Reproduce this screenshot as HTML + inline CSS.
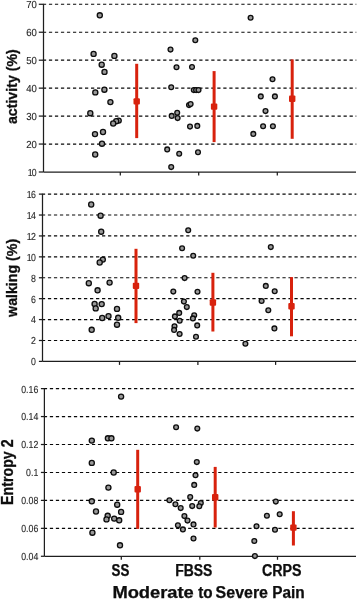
<!DOCTYPE html>
<html lang="en"><head><meta charset="utf-8"><title>Moderate to Severe Pain</title>
<style>html,body{margin:0;padding:0;background:#fff}body{width:358px;height:600px;overflow:hidden;position:relative}svg{position:absolute;left:0;top:0;display:block}.tk{font-family:"Liberation Sans",sans-serif;font-size:10.2px;fill:#262626;stroke:#262626;stroke-width:.12;text-rendering:geometricPrecision}.yl{font-family:"Liberation Sans",sans-serif;font-size:14.2px;font-weight:bold;fill:#111;stroke:#111;stroke-width:.3}.xl{font-family:"Liberation Sans",sans-serif;font-weight:bold;fill:#0a0a0a;stroke:#0a0a0a;stroke-width:.25}.g{stroke:#080808;stroke-width:1.15;stroke-dasharray:3.25 2.763;fill:none}.a{stroke:#1e1e1e;stroke-width:1.25;fill:none}.d circle{fill:#999;stroke:#0c0c0c;stroke-width:1.3}.r line{stroke:#d8210c;stroke-width:3}.r rect{fill:#d8210c}</style></head><body>
<svg width="358" height="600" viewBox="0 0 358 600">
<defs><filter id="soft" x="0" y="0" width="358" height="600" filterUnits="userSpaceOnUse"><feGaussianBlur stdDeviation="0.38"/></filter><filter id="soft2" x="0" y="0" width="358" height="600" filterUnits="userSpaceOnUse"><feGaussianBlur stdDeviation="0.27"/></filter></defs>
<rect width="358" height="600" fill="#fff"/>
<line class="g" x1="42.90" y1="4.28" x2="356.3" y2="4.28"/>
<line class="a" x1="38.8" y1="4.28" x2="43.5" y2="4.28"/>
<line class="g" x1="42.90" y1="32.23" x2="356.3" y2="32.23"/>
<line class="a" x1="38.8" y1="32.23" x2="43.5" y2="32.23"/>
<line class="g" x1="42.90" y1="60.19" x2="356.3" y2="60.19"/>
<line class="a" x1="38.8" y1="60.19" x2="43.5" y2="60.19"/>
<line class="g" x1="42.90" y1="88.14" x2="356.3" y2="88.14"/>
<line class="a" x1="38.8" y1="88.14" x2="43.5" y2="88.14"/>
<line class="g" x1="42.90" y1="116.09" x2="356.3" y2="116.09"/>
<line class="a" x1="38.8" y1="116.09" x2="43.5" y2="116.09"/>
<line class="g" x1="42.90" y1="144.05" x2="356.3" y2="144.05"/>
<line class="a" x1="38.8" y1="144.05" x2="43.5" y2="144.05"/>
<line class="a" x1="38.8" y1="172.00" x2="43.5" y2="172.00"/>
<line class="a" x1="43.5" y1="4.28" x2="43.5" y2="172.00"/>
<line class="a" x1="43.5" y1="172.00" x2="356.0" y2="172.00"/>
<line class="a" x1="120.3" y1="172.00" x2="120.3" y2="175.50"/>
<line class="a" x1="198.7" y1="172.00" x2="198.7" y2="175.50"/>
<line class="a" x1="277.3" y1="172.00" x2="277.3" y2="175.50"/>
<line class="g" x1="41.90" y1="194.12" x2="356.3" y2="194.12"/>
<line class="a" x1="38.9" y1="194.12" x2="42.5" y2="194.12"/>
<line class="g" x1="41.90" y1="215.03" x2="356.3" y2="215.03"/>
<line class="a" x1="38.9" y1="215.03" x2="42.5" y2="215.03"/>
<line class="g" x1="41.90" y1="235.94" x2="356.3" y2="235.94"/>
<line class="a" x1="38.9" y1="235.94" x2="42.5" y2="235.94"/>
<line class="g" x1="41.90" y1="256.85" x2="356.3" y2="256.85"/>
<line class="a" x1="38.9" y1="256.85" x2="42.5" y2="256.85"/>
<line class="g" x1="41.90" y1="277.76" x2="356.3" y2="277.76"/>
<line class="a" x1="38.9" y1="277.76" x2="42.5" y2="277.76"/>
<line class="g" x1="41.90" y1="298.67" x2="356.3" y2="298.67"/>
<line class="a" x1="38.9" y1="298.67" x2="42.5" y2="298.67"/>
<line class="g" x1="41.90" y1="319.58" x2="356.3" y2="319.58"/>
<line class="a" x1="38.9" y1="319.58" x2="42.5" y2="319.58"/>
<line class="g" x1="41.90" y1="340.49" x2="356.3" y2="340.49"/>
<line class="a" x1="38.9" y1="340.49" x2="42.5" y2="340.49"/>
<line class="a" x1="38.9" y1="361.40" x2="42.5" y2="361.40"/>
<line class="a" x1="42.5" y1="194.12" x2="42.5" y2="361.40"/>
<line class="a" x1="42.5" y1="361.40" x2="356.0" y2="361.40"/>
<line class="a" x1="119.5" y1="361.40" x2="119.5" y2="364.90"/>
<line class="a" x1="197.9" y1="361.40" x2="197.9" y2="364.90"/>
<line class="a" x1="275.6" y1="361.40" x2="275.6" y2="364.90"/>
<line class="g" x1="43.84" y1="388.62" x2="356.3" y2="388.62"/>
<line class="a" x1="40.9" y1="388.62" x2="44.4" y2="388.62"/>
<line class="g" x1="43.84" y1="416.56" x2="356.3" y2="416.56"/>
<line class="a" x1="40.9" y1="416.56" x2="44.4" y2="416.56"/>
<line class="g" x1="43.84" y1="444.51" x2="356.3" y2="444.51"/>
<line class="a" x1="40.9" y1="444.51" x2="44.4" y2="444.51"/>
<line class="g" x1="43.84" y1="472.45" x2="356.3" y2="472.45"/>
<line class="a" x1="40.9" y1="472.45" x2="44.4" y2="472.45"/>
<line class="g" x1="43.84" y1="500.39" x2="356.3" y2="500.39"/>
<line class="a" x1="40.9" y1="500.39" x2="44.4" y2="500.39"/>
<line class="g" x1="43.84" y1="528.34" x2="356.3" y2="528.34"/>
<line class="a" x1="40.9" y1="528.34" x2="44.4" y2="528.34"/>
<line class="a" x1="40.9" y1="556.28" x2="44.4" y2="556.28"/>
<line class="a" x1="44.4" y1="388.62" x2="44.4" y2="556.28"/>
<line class="a" x1="44.4" y1="556.28" x2="356.0" y2="556.28"/>
<line class="a" x1="121.3" y1="556.28" x2="121.3" y2="559.78"/>
<line class="a" x1="199.8" y1="556.28" x2="199.8" y2="559.78"/>
<line class="a" x1="277.5" y1="556.28" x2="277.5" y2="559.78"/>
<g filter="url(#soft)">
<text class="tk" text-anchor="end" transform="translate(36.9,8.18) scale(0.94,1)">70</text>
<text class="tk" text-anchor="end" transform="translate(36.9,36.13) scale(0.94,1)">60</text>
<text class="tk" text-anchor="end" transform="translate(36.9,64.09) scale(0.94,1)">50</text>
<text class="tk" text-anchor="end" transform="translate(36.9,92.04) scale(0.94,1)">40</text>
<text class="tk" text-anchor="end" transform="translate(36.9,119.99) scale(0.94,1)">30</text>
<text class="tk" text-anchor="end" transform="translate(36.9,147.95) scale(0.94,1)">20</text>
<text class="tk" text-anchor="end" style="letter-spacing:-1px" transform="translate(35.8,175.90) scale(0.86,1)">10</text>
<text class="tk" text-anchor="end" style="letter-spacing:-1px" transform="translate(34.9,198.02) scale(0.86,1)">16</text>
<text class="tk" text-anchor="end" style="letter-spacing:-1px" transform="translate(34.9,218.93) scale(0.86,1)">14</text>
<text class="tk" text-anchor="end" style="letter-spacing:-1px" transform="translate(34.9,239.84) scale(0.86,1)">12</text>
<text class="tk" text-anchor="end" style="letter-spacing:-1px" transform="translate(34.9,260.75) scale(0.86,1)">10</text>
<text class="tk" text-anchor="end" transform="translate(36.0,281.66) scale(0.86,1)">8</text>
<text class="tk" text-anchor="end" transform="translate(36.0,302.57) scale(0.86,1)">6</text>
<text class="tk" text-anchor="end" transform="translate(36.0,323.48) scale(0.86,1)">4</text>
<text class="tk" text-anchor="end" transform="translate(36.0,344.39) scale(0.86,1)">2</text>
<text class="tk" text-anchor="end" transform="translate(36.0,365.30) scale(0.86,1)">0</text>
<text class="tk" text-anchor="end" transform="translate(38.3,392.52) scale(0.86,1)">0.16</text>
<text class="tk" text-anchor="end" transform="translate(38.3,420.46) scale(0.86,1)">0.14</text>
<text class="tk" text-anchor="end" transform="translate(38.3,448.41) scale(0.86,1)">0.12</text>
<text class="tk" text-anchor="end" transform="translate(38.3,476.35) scale(0.86,1)">0.1</text>
<text class="tk" text-anchor="end" transform="translate(38.3,504.29) scale(0.86,1)">0.08</text>
<text class="tk" text-anchor="end" transform="translate(38.3,532.24) scale(0.86,1)">0.06</text>
<text class="tk" text-anchor="end" transform="translate(38.3,560.18) scale(0.86,1)">0.04</text>
<g class="r">
<line x1="136.7" y1="63.8" x2="136.7" y2="138.1"/><rect x="133.5" y="98.2" width="6.4" height="6.4" rx="1"/>
<line x1="214.1" y1="71.1" x2="214.1" y2="142.1"/><rect x="210.9" y="103.4" width="6.4" height="6.4" rx="1"/>
<line x1="292.2" y1="59.4" x2="292.2" y2="138.8"/><rect x="289.0" y="95.5" width="6.4" height="6.4" rx="1"/>
<line x1="136.0" y1="248.8" x2="136.0" y2="323.1"/><rect x="132.8" y="282.7" width="6.4" height="6.4" rx="1"/>
<line x1="212.9" y1="272.8" x2="212.9" y2="331.5"/><rect x="209.7" y="299.3" width="6.4" height="6.4" rx="1"/>
<line x1="291.5" y1="277.1" x2="291.5" y2="336.3"/><rect x="288.3" y="303.1" width="6.4" height="6.4" rx="1"/>
<line x1="137.7" y1="449.8" x2="137.7" y2="528.9"/><rect x="134.5" y="486.1" width="6.4" height="6.4" rx="1"/>
<line x1="215.2" y1="466.9" x2="215.2" y2="527.5"/><rect x="212.0" y="494.1" width="6.4" height="6.4" rx="1"/>
<line x1="293.4" y1="511.2" x2="293.4" y2="545.5"/><rect x="290.2" y="524.4" width="6.4" height="6.4" rx="1"/>
</g>
</g><g filter="url(#soft2)">
<g class="d">
<circle cx="99.8" cy="15.3" r="2.55"/>
<circle cx="93.6" cy="53.9" r="2.55"/>
<circle cx="114.4" cy="55.9" r="2.55"/>
<circle cx="101.7" cy="64.7" r="2.55"/>
<circle cx="104.5" cy="71.9" r="2.55"/>
<circle cx="104.4" cy="89.7" r="2.55"/>
<circle cx="95.3" cy="92.4" r="2.55"/>
<circle cx="110.4" cy="102.1" r="2.55"/>
<circle cx="90.3" cy="113.2" r="2.55"/>
<circle cx="118.7" cy="120.6" r="2.55"/>
<circle cx="116.2" cy="121.2" r="2.55"/>
<circle cx="113.2" cy="123.5" r="2.55"/>
<circle cx="103" cy="132.0" r="2.55"/>
<circle cx="95" cy="134.1" r="2.55"/>
<circle cx="102" cy="143.7" r="2.55"/>
<circle cx="95.2" cy="154.5" r="2.55"/>
<circle cx="250.6" cy="17.7" r="2.4"/>
<circle cx="195.3" cy="40.2" r="2.4"/>
<circle cx="170.5" cy="49.6" r="2.4"/>
<circle cx="176.5" cy="67.3" r="2.4"/>
<circle cx="192" cy="67.0" r="2.4"/>
<circle cx="171.2" cy="87.2" r="2.4"/>
<circle cx="193.8" cy="90.1" r="2.4"/>
<circle cx="196.1" cy="90.1" r="2.4"/>
<circle cx="198.5" cy="90.1" r="2.4"/>
<circle cx="189" cy="105.1" r="2.4"/>
<circle cx="190.6" cy="104.1" r="2.4"/>
<circle cx="177.2" cy="112.8" r="2.4"/>
<circle cx="171.7" cy="115.9" r="2.4"/>
<circle cx="177.6" cy="118.1" r="2.4"/>
<circle cx="190" cy="126.6" r="2.4"/>
<circle cx="197.3" cy="125.9" r="2.4"/>
<circle cx="253.3" cy="133.9" r="2.4"/>
<circle cx="167.2" cy="149.4" r="2.4"/>
<circle cx="179.2" cy="153.8" r="2.4"/>
<circle cx="198" cy="152.3" r="2.4"/>
<circle cx="171.2" cy="167.1" r="2.4"/>
<circle cx="272.5" cy="79.2" r="2.4"/>
<circle cx="260.8" cy="96.4" r="2.4"/>
<circle cx="274.9" cy="96.4" r="2.4"/>
<circle cx="265.5" cy="111.1" r="2.4"/>
<circle cx="263.1" cy="126.2" r="2.4"/>
<circle cx="272.9" cy="126.2" r="2.4"/>
<circle cx="91.2" cy="204.5" r="2.55"/>
<circle cx="100.6" cy="215.7" r="2.55"/>
<circle cx="101.2" cy="231.7" r="2.55"/>
<circle cx="102.8" cy="259.6" r="2.55"/>
<circle cx="99.7" cy="262.5" r="2.55"/>
<circle cx="88.8" cy="283.2" r="2.55"/>
<circle cx="109.6" cy="282.6" r="2.55"/>
<circle cx="97.6" cy="290.3" r="2.55"/>
<circle cx="94.6" cy="303.9" r="2.55"/>
<circle cx="101.7" cy="304.1" r="2.55"/>
<circle cx="95.7" cy="308.4" r="2.55"/>
<circle cx="117" cy="308.9" r="2.55"/>
<circle cx="108.5" cy="316.1" r="2.55"/>
<circle cx="102.2" cy="318.0" r="2.55"/>
<circle cx="118.2" cy="317.8" r="2.55"/>
<circle cx="117" cy="324.7" r="2.55"/>
<circle cx="91.7" cy="329.8" r="2.55"/>
<circle cx="188.2" cy="230.2" r="2.4"/>
<circle cx="182.1" cy="248.3" r="2.4"/>
<circle cx="193.2" cy="255.7" r="2.4"/>
<circle cx="184.6" cy="278.1" r="2.4"/>
<circle cx="173.3" cy="291.6" r="2.4"/>
<circle cx="197.5" cy="291.8" r="2.4"/>
<circle cx="183.9" cy="301.6" r="2.4"/>
<circle cx="186.8" cy="307.1" r="2.4"/>
<circle cx="179.2" cy="312.9" r="2.4"/>
<circle cx="174.9" cy="316.4" r="2.4"/>
<circle cx="194.2" cy="315.3" r="2.4"/>
<circle cx="192.9" cy="318.4" r="2.4"/>
<circle cx="179.7" cy="320.7" r="2.4"/>
<circle cx="197.2" cy="325.4" r="2.4"/>
<circle cx="174.5" cy="326.2" r="2.4"/>
<circle cx="174.1" cy="329.9" r="2.4"/>
<circle cx="179.6" cy="334.0" r="2.4"/>
<circle cx="196" cy="336.8" r="2.4"/>
<circle cx="270.8" cy="247.1" r="2.4"/>
<circle cx="265.8" cy="285.9" r="2.4"/>
<circle cx="274.7" cy="291.2" r="2.4"/>
<circle cx="261.6" cy="301.0" r="2.4"/>
<circle cx="268.3" cy="310.2" r="2.4"/>
<circle cx="274.4" cy="328.4" r="2.4"/>
<circle cx="245.4" cy="343.7" r="2.4"/>
<circle cx="121.1" cy="396.6" r="2.55"/>
<circle cx="91.8" cy="440.6" r="2.55"/>
<circle cx="107.9" cy="438.3" r="2.55"/>
<circle cx="111.4" cy="438.3" r="2.55"/>
<circle cx="91.8" cy="462.9" r="2.55"/>
<circle cx="113.7" cy="472.5" r="2.55"/>
<circle cx="108.4" cy="487.6" r="2.55"/>
<circle cx="91.8" cy="501.3" r="2.55"/>
<circle cx="117.2" cy="504.7" r="2.55"/>
<circle cx="96" cy="511.5" r="2.55"/>
<circle cx="121.1" cy="511.9" r="2.55"/>
<circle cx="107.7" cy="515.8" r="2.55"/>
<circle cx="106.5" cy="519.4" r="2.55"/>
<circle cx="114.2" cy="518.6" r="2.55"/>
<circle cx="119.2" cy="520.3" r="2.55"/>
<circle cx="92.4" cy="532.7" r="2.55"/>
<circle cx="120" cy="545.3" r="2.55"/>
<circle cx="176.1" cy="427.3" r="2.4"/>
<circle cx="197.3" cy="428.6" r="2.4"/>
<circle cx="196.8" cy="462.1" r="2.4"/>
<circle cx="195.5" cy="475.3" r="2.4"/>
<circle cx="194.2" cy="484.9" r="2.4"/>
<circle cx="190.2" cy="497.0" r="2.4"/>
<circle cx="169.4" cy="500.3" r="2.4"/>
<circle cx="175.4" cy="504.3" r="2.4"/>
<circle cx="200.8" cy="503.0" r="2.4"/>
<circle cx="192.2" cy="506.1" r="2.4"/>
<circle cx="199.3" cy="506.3" r="2.4"/>
<circle cx="180.7" cy="508.1" r="2.4"/>
<circle cx="184.4" cy="516.1" r="2.4"/>
<circle cx="187.5" cy="520.6" r="2.4"/>
<circle cx="193.5" cy="524.4" r="2.4"/>
<circle cx="177.9" cy="525.2" r="2.4"/>
<circle cx="182.9" cy="529.4" r="2.4"/>
<circle cx="193.5" cy="538.5" r="2.4"/>
<circle cx="275.8" cy="501.6" r="2.4"/>
<circle cx="266.9" cy="515.8" r="2.4"/>
<circle cx="279.7" cy="514.2" r="2.4"/>
<circle cx="256.5" cy="526.2" r="2.4"/>
<circle cx="275" cy="529.8" r="2.4"/>
<circle cx="254.3" cy="541.0" r="2.4"/>
<circle cx="254.9" cy="556.1" r="2.4"/>
</g></g><g filter="url(#soft)">
<text class="yl" transform="translate(17.4,124.1) rotate(-90) scale(1,1.09)">activity (%)</text>
<text class="yl" transform="translate(17.3,316.9) rotate(-90) scale(1,1.09)">walking (%)</text>
<text class="yl" transform="translate(13.3,504.9) rotate(-90) scale(1,1.12)">Entropy 2</text>
<text class="xl" font-size="15.6" x="111.6" y="575.5" textLength="17.8" lengthAdjust="spacingAndGlyphs">SS</text>
<text class="xl" font-size="15.6" x="175.2" y="575.5" textLength="37.2" lengthAdjust="spacingAndGlyphs">FBSS</text>
<text class="xl" font-size="15.6" x="262.0" y="575.5" textLength="39.6" lengthAdjust="spacingAndGlyphs">CRPS</text>
<text class="xl" font-size="16.0" x="112.4" y="598.3" textLength="81.4" lengthAdjust="spacingAndGlyphs">Moderate</text>
<text class="xl" font-size="16.0" x="198.2" y="598.3" textLength="14.4" lengthAdjust="spacingAndGlyphs">to</text>
<text class="xl" font-size="16.0" x="215.6" y="598.3" textLength="52.4" lengthAdjust="spacingAndGlyphs">Severe</text>
<text class="xl" font-size="16.0" x="272.2" y="598.3" textLength="32.4" lengthAdjust="spacingAndGlyphs">Pain</text>
</g></svg></body></html>
